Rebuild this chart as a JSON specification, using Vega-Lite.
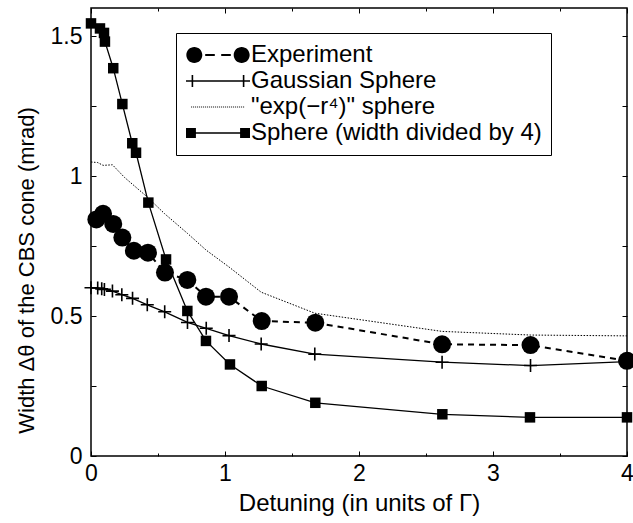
{
  "$schema": "https://vega.github.io/schema/vega-lite/v6.json",
  "width": 536,
  "height": 448,
  "autosize": {"type": "none"},
  "padding": {"left": 91, "top": 8, "right": 6, "bottom": 67},
  "background": "white",
  "config": {
    "view": {"stroke": "black", "strokeWidth": 1.5},
    "font": "Liberation Sans",
    "axis": {
      "domain": false,
      "grid": false,
      "tickColor": "black",
      "tickWidth": 1,
      "labelColor": "black",
      "labelFont": "Liberation Sans",
      "labelFontSize": 23,
      "labelFlush": false,
      "titleFont": "Liberation Sans",
      "titleFontSize": 22,
      "titleFontWeight": "normal",
      "titleColor": "black"
    }
  },
  "data": {
    "values": [
      {"series": "Experiment", "x": 0.04, "y": 0.845},
      {"series": "Experiment", "x": 0.09, "y": 0.865},
      {"series": "Experiment", "x": 0.166, "y": 0.829},
      {"series": "Experiment", "x": 0.234, "y": 0.78},
      {"series": "Experiment", "x": 0.32, "y": 0.733},
      {"series": "Experiment", "x": 0.425, "y": 0.726},
      {"series": "Experiment", "x": 0.552, "y": 0.655},
      {"series": "Experiment", "x": 0.719, "y": 0.629},
      {"series": "Experiment", "x": 0.858, "y": 0.569},
      {"series": "Experiment", "x": 1.03, "y": 0.569},
      {"series": "Experiment", "x": 1.274, "y": 0.482},
      {"series": "Experiment", "x": 1.674, "y": 0.476},
      {"series": "Experiment", "x": 2.62, "y": 0.399},
      {"series": "Experiment", "x": 3.28, "y": 0.396},
      {"series": "Experiment", "x": 4.0, "y": 0.34},

      {"series": "Gaussian Sphere", "x": 0.0, "y": 0.601},
      {"series": "Gaussian Sphere", "x": 0.05, "y": 0.6},
      {"series": "Gaussian Sphere", "x": 0.08, "y": 0.597},
      {"series": "Gaussian Sphere", "x": 0.1, "y": 0.595},
      {"series": "Gaussian Sphere", "x": 0.16, "y": 0.589},
      {"series": "Gaussian Sphere", "x": 0.23, "y": 0.576},
      {"series": "Gaussian Sphere", "x": 0.31, "y": 0.563},
      {"series": "Gaussian Sphere", "x": 0.42, "y": 0.54},
      {"series": "Gaussian Sphere", "x": 0.55, "y": 0.515},
      {"series": "Gaussian Sphere", "x": 0.72, "y": 0.477},
      {"series": "Gaussian Sphere", "x": 0.86, "y": 0.456},
      {"series": "Gaussian Sphere", "x": 1.03, "y": 0.43},
      {"series": "Gaussian Sphere", "x": 1.27, "y": 0.4},
      {"series": "Gaussian Sphere", "x": 1.67, "y": 0.364},
      {"series": "Gaussian Sphere", "x": 2.62, "y": 0.335},
      {"series": "Gaussian Sphere", "x": 3.28, "y": 0.323},
      {"series": "Gaussian Sphere", "x": 4.0, "y": 0.337},

      {"series": "\"exp(−r⁴)\" sphere", "x": 0.0, "y": 1.05},
      {"series": "\"exp(−r⁴)\" sphere", "x": 0.05, "y": 1.048},
      {"series": "\"exp(−r⁴)\" sphere", "x": 0.09, "y": 1.038},
      {"series": "\"exp(−r⁴)\" sphere", "x": 0.16, "y": 1.04},
      {"series": "\"exp(−r⁴)\" sphere", "x": 0.25, "y": 0.995},
      {"series": "\"exp(−r⁴)\" sphere", "x": 0.42, "y": 0.925},
      {"series": "\"exp(−r⁴)\" sphere", "x": 0.55, "y": 0.865},
      {"series": "\"exp(−r⁴)\" sphere", "x": 0.72, "y": 0.795},
      {"series": "\"exp(−r⁴)\" sphere", "x": 0.86, "y": 0.735},
      {"series": "\"exp(−r⁴)\" sphere", "x": 1.03, "y": 0.675},
      {"series": "\"exp(−r⁴)\" sphere", "x": 1.27, "y": 0.585},
      {"series": "\"exp(−r⁴)\" sphere", "x": 1.67, "y": 0.51},
      {"series": "\"exp(−r⁴)\" sphere", "x": 2.62, "y": 0.445},
      {"series": "\"exp(−r⁴)\" sphere", "x": 3.28, "y": 0.432},
      {"series": "\"exp(−r⁴)\" sphere", "x": 4.0, "y": 0.429},

      {"series": "Sphere (width divided by 4)", "x": 0.0, "y": 1.545},
      {"series": "Sphere (width divided by 4)", "x": 0.067, "y": 1.527},
      {"series": "Sphere (width divided by 4)", "x": 0.097, "y": 1.511},
      {"series": "Sphere (width divided by 4)", "x": 0.104, "y": 1.48},
      {"series": "Sphere (width divided by 4)", "x": 0.166, "y": 1.385},
      {"series": "Sphere (width divided by 4)", "x": 0.234, "y": 1.257},
      {"series": "Sphere (width divided by 4)", "x": 0.308, "y": 1.117},
      {"series": "Sphere (width divided by 4)", "x": 0.336, "y": 1.083},
      {"series": "Sphere (width divided by 4)", "x": 0.428, "y": 0.905},
      {"series": "Sphere (width divided by 4)", "x": 0.56, "y": 0.702},
      {"series": "Sphere (width divided by 4)", "x": 0.719, "y": 0.518},
      {"series": "Sphere (width divided by 4)", "x": 0.858, "y": 0.411},
      {"series": "Sphere (width divided by 4)", "x": 1.037, "y": 0.327},
      {"series": "Sphere (width divided by 4)", "x": 1.274, "y": 0.25},
      {"series": "Sphere (width divided by 4)", "x": 1.674, "y": 0.19},
      {"series": "Sphere (width divided by 4)", "x": 2.622, "y": 0.149},
      {"series": "Sphere (width divided by 4)", "x": 3.276, "y": 0.138},
      {"series": "Sphere (width divided by 4)", "x": 4.0, "y": 0.138}
    ]
  },
  "layer": [
    {
      "transform": [{"filter": {"field": "series", "equal": "\"exp(−r⁴)\" sphere"}}],
      "mark": {"type": "line", "color": "black", "strokeWidth": 1, "strokeDash": [1.5, 1.5]},
      "encoding": {
        "x": {
          "field": "x", "type": "quantitative",
          "scale": {"domain": [0, 4], "nice": false, "zero": false},
          "axis": {
            "orient": "top", "labels": false, "title": null,
            "values": [0, 0.5, 1, 1.5, 2, 2.5, 3, 3.5, 4],
            "tickSize": {"condition": {"test": "datum.value % 1 === 0", "value": -5}, "value": -3}
          }
        },
        "y": {
          "field": "y", "type": "quantitative",
          "scale": {"domain": [0, 1.6], "nice": false, "zero": false},
          "axis": {
            "orient": "right", "labels": false, "title": null,
            "values": [0, 0.25, 0.5, 0.75, 1, 1.25, 1.5],
            "tickSize": -5
          }
        }
      }
    },
    {
      "transform": [{"filter": {"field": "series", "equal": "Experiment"}}],
      "mark": {
        "type": "line", "color": "black", "strokeWidth": 2, "strokeDash": [6, 5],
        "point": {"shape": "circle", "size": 324, "filled": true, "color": "black"}
      },
      "encoding": {
        "x": {
          "field": "x", "type": "quantitative",
          "axis": {
            "orient": "bottom",
            "title": "Detuning (in units of Γ)",
            "titleFontSize": 24,
            "values": [0, 0.5, 1, 1.5, 2, 2.5, 3, 3.5, 4],
            "format": "~g",
            "labelExpr": "datum.value % 1 === 0 ? datum.label : ''",
            "tickSize": {"condition": {"test": "datum.value % 1 === 0", "value": -5}, "value": -3},
            "labelPadding": 11,
            "titlePadding": 6
          }
        },
        "y": {
          "field": "y", "type": "quantitative",
          "axis": {
            "orient": "left",
            "title": "Width Δθ of the CBS cone (mrad)",
            "titleY": 262,
            "titleAlign": "center",
            "values": [0, 0.25, 0.5, 0.75, 1, 1.25, 1.5],
            "format": "~g",
            "labelExpr": "datum.value % 0.5 === 0 ? datum.label : ''",
            "tickSize": -5,
            "labelPadding": 14,
            "titlePadding": 12
          }
        }
      }
    },
    {
      "transform": [{"filter": {"field": "series", "equal": "Gaussian Sphere"}}],
      "mark": {
        "type": "line", "color": "black", "strokeWidth": 1.3,
        "point": {"shape": "M-1,0H1M0,-1V1", "size": 169, "filled": false, "color": "black", "strokeWidth": 1.6}
      },
      "encoding": {
        "x": {"field": "x", "type": "quantitative", "axis": null},
        "y": {"field": "y", "type": "quantitative", "axis": null}
      }
    },
    {
      "transform": [{"filter": {"field": "series", "equal": "Sphere (width divided by 4)"}}],
      "mark": {
        "type": "line", "color": "black", "strokeWidth": 1.3,
        "point": {"shape": "square", "size": 110, "filled": true, "color": "black"}
      },
      "encoding": {
        "x": {"field": "x", "type": "quantitative", "axis": null},
        "y": {"field": "y", "type": "quantitative", "axis": null}
      }
    },
    {
      "transform": [{"filter": "datum.x < -100"}],
      "mark": {"type": "point", "filled": true, "fill": "black", "opacity": 1},
      "encoding": {
        "x": {"field": "x", "type": "quantitative", "axis": null},
        "y": {"field": "y", "type": "quantitative", "axis": null},
        "shape": {
          "field": "series", "type": "nominal",
          "scale": {
            "domain": ["Experiment", "Gaussian Sphere", "\"exp(−r⁴)\" sphere", "Sphere (width divided by 4)"],
            "range": [
              "M-0.49,0A0.25,0.25 0 1 1 -0.99,0A0.25,0.25 0 1 1 -0.49,0ZM0.99,0A0.25,0.25 0 1 1 0.49,0A0.25,0.25 0 1 1 0.99,0ZM-0.40,-0.032H-0.10V0.032H-0.40ZM0.10,-0.032H0.40V0.032H0.10Z",
              "M-1,-0.022H1V0.022H-1ZM-0.825,-0.19H-0.775V0.19H-0.825ZM0.775,-0.19H0.825V0.19H0.775Z",
              "M-0.84,-0.016h0.031v0.032h-0.031zM-0.7775,-0.016h0.031v0.032h-0.031zM-0.715,-0.016h0.031v0.032h-0.031zM-0.6525,-0.016h0.031v0.032h-0.031zM-0.59,-0.016h0.031v0.032h-0.031zM-0.5275,-0.016h0.031v0.032h-0.031zM-0.465,-0.016h0.031v0.032h-0.031zM-0.4025,-0.016h0.031v0.032h-0.031zM-0.34,-0.016h0.031v0.032h-0.031zM-0.2775,-0.016h0.031v0.032h-0.031zM-0.215,-0.016h0.031v0.032h-0.031zM-0.1525,-0.016h0.031v0.032h-0.031zM-0.09,-0.016h0.031v0.032h-0.031zM-0.0275,-0.016h0.031v0.032h-0.031zM0.035,-0.016h0.031v0.032h-0.031zM0.0975,-0.016h0.031v0.032h-0.031zM0.16,-0.016h0.031v0.032h-0.031zM0.2225,-0.016h0.031v0.032h-0.031zM0.285,-0.016h0.031v0.032h-0.031zM0.3475,-0.016h0.031v0.032h-0.031zM0.41,-0.016h0.031v0.032h-0.031zM0.4725,-0.016h0.031v0.032h-0.031zM0.535,-0.016h0.031v0.032h-0.031zM0.5975,-0.016h0.031v0.032h-0.031zM0.66,-0.016h0.031v0.032h-0.031zM0.7225,-0.016h0.031v0.032h-0.031zM0.785,-0.016h0.031v0.032h-0.031z",
              "M-1,-0.156H-0.69V0.156H-1ZM0.69,-0.156H1V0.156H0.69ZM-0.69,-0.022H0.69V0.022H-0.69Z"
            ]
          },
          "legend": {
            "title": null,
            "orient": "none",
            "legendX": 85,
            "legendY": 25,
            "padding": 9,
            "strokeColor": "black",
            "fillColor": "white",
            "cornerRadius": 0,
            "symbolSize": 4096,
            "symbolFillColor": "black",
            "symbolOpacity": 1,
            "clipHeight": 26,
            "labelFont": "Liberation Sans",
            "labelFontSize": 24,
            "labelColor": "black",
            "labelLimit": 400,
            "labelOffset": 0,
            "rowPadding": 0
          }
        }
      }
    }
  ]
}
